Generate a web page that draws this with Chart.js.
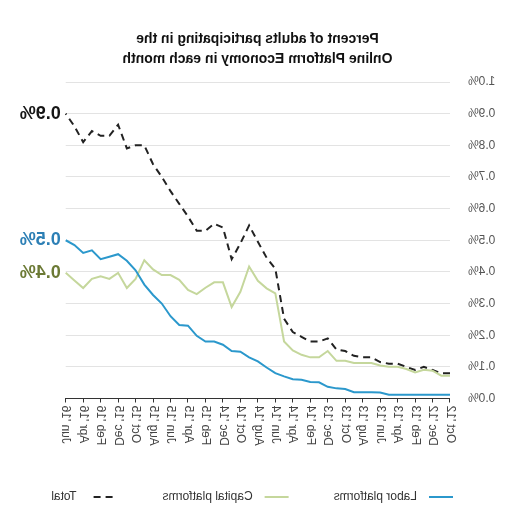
<!DOCTYPE html>
<html>
<head>
<meta charset="utf-8">
<script src="https://cdn.jsdelivr.net/npm/chart.js@4.4.1/dist/chart.umd.min.js"></script>
<style>
  html, body { margin: 0; padding: 0; background: #fff; overflow: hidden; }
  #wrap { width: 515px; height: 508px; transform: scaleX(-1); }
</style>
</head>
<body>
<div id="wrap"><canvas id="c" width="515" height="508"></canvas></div>
<script>
const months = [
  "Oct '12","Nov '12","Dec '12","Jan '13","Feb '13","Mar '13","Apr '13","May '13","Jun '13","Jul '13","Aug '13","Sep '13",
  "Oct '13","Nov '13","Dec '13","Jan '14","Feb '14","Mar '14","Apr '14","May '14","Jun '14","Jul '14","Aug '14","Sep '14",
  "Oct '14","Nov '14","Dec '14","Jan '15","Feb '15","Mar '15","Apr '15","May '15","Jun '15","Jul '15","Aug '15","Sep '15",
  "Oct '15","Nov '15","Dec '15","Jan '16","Feb '16","Mar '16","Apr '16","May '16","Jun '16"
];
// percent of adults (%)
const laborPlatforms = [
  0.012,0.012,0.012,0.012,0.012,0.012,0.012,0.012,0.019,0.02,0.02,0.02,
  0.03,0.032,0.037,0.051,0.052,0.059,0.061,0.07,0.08,0.098,0.117,0.13,
  0.148,0.15,0.17,0.18,0.18,0.198,0.23,0.232,0.26,0.30,0.327,0.36,
  0.405,0.435,0.456,0.448,0.44,0.468,0.46,0.485,0.50
];
const capitalPlatforms = [
  0.072,0.072,0.088,0.091,0.082,0.093,0.10,0.10,0.104,0.112,0.112,0.112,
  0.119,0.119,0.15,0.13,0.13,0.138,0.152,0.18,0.332,0.348,0.372,0.417,
  0.337,0.289,0.367,0.367,0.35,0.33,0.343,0.375,0.39,0.39,0.408,0.437,
  0.378,0.349,0.397,0.378,0.386,0.378,0.349,0.373,0.397
];
const totalPlatforms = [
  0.08,0.08,0.09,0.10,0.09,0.10,0.11,0.11,0.115,0.13,0.13,0.135,
  0.15,0.155,0.19,0.18,0.18,0.195,0.21,0.252,0.41,0.445,0.495,0.547,
  0.49,0.44,0.54,0.552,0.53,0.53,0.575,0.615,0.655,0.70,0.74,0.80,
  0.80,0.79,0.865,0.83,0.83,0.845,0.81,0.86,0.90
];
const seriesNames = ["Labor platforms", "Capital platforms", "Total"];
const endLabels = ["0.5%", "0.4%", "0.9%"];
const titleLines = ["Percent of adults participating in the", "Online Platform Economy in each month"];

const FONT = '"Liberation Sans", Arial, sans-serif';
const lineColors = ["#2b98cc", "#c5d79c", "#222222"];
const labelColors = ["#2c7fb5", "#6c7a35", "#151515"];

const endLabelPlugin = {
  id: 'endLabels',
  afterDatasetsDraw(chart) {
    const ctx = chart.ctx;
    ctx.save();
    ctx.font = 'bold 18px ' + FONT;
    ctx.textAlign = 'left';
    ctx.textBaseline = 'middle';
    chart.data.datasets.forEach((ds, i) => {
      const meta = chart.getDatasetMeta(i);
      const pt = meta.data[meta.data.length - 1];
      ctx.fillStyle = labelColors[i];
      ctx.fillText(endLabels[i], pt.x + 5, pt.y);
    });
    ctx.restore();
  }
};

const legendPlugin = {
  id: 'lineLegend',
  afterDraw(chart) {
    const ctx = chart.ctx;
    ctx.save();
    ctx.font = '12px ' + FONT;
    ctx.textBaseline = 'middle';
    ctx.textAlign = 'left';
    const y = chart.height - 11;
    const sw = 24, gap = 12;
    let x = chart.chartArea.left - 3;
    chart.data.datasets.forEach((ds, i) => {
      ctx.beginPath();
      ctx.setLineDash(ds.borderDash || []);
      ctx.strokeStyle = ds.borderColor;
      ctx.lineWidth = 2;
      ctx.moveTo(x, y);
      ctx.lineTo(x + sw, y);
      ctx.stroke();
      ctx.setLineDash([]);
      ctx.fillStyle = '#333';
      ctx.fillText(ds.label, x + sw + gap, y);
      x += sw + gap + ctx.measureText(ds.label).width + (i === 0 ? 45 : 50);
    });
    ctx.restore();
  }
};

new Chart(document.getElementById('c'), {
  type: 'line',
  data: {
    labels: months,
    datasets: [
      { label: seriesNames[0], data: laborPlatforms, borderColor: lineColors[0], borderWidth: 2, pointRadius: 0, tension: 0 },
      { label: seriesNames[1], data: capitalPlatforms, borderColor: lineColors[1], borderWidth: 2, pointRadius: 0, tension: 0 },
      { label: seriesNames[2], data: totalPlatforms, borderColor: lineColors[2], borderWidth: 2, borderDash: [7, 5], pointRadius: 0, tension: 0 }
    ]
  },
  options: {
    responsive: false,
    animation: false,
    layout: { padding: { left: 0, right: 0, top: 0, bottom: 53.5 } },
    plugins: {
      legend: { display: false },
      tooltip: { enabled: false },
      title: {
        display: true,
        text: titleLines,
        color: '#111',
        font: { family: FONT, size: 14, weight: 'bold', lineHeight: 20 / 14 },
        padding: { top: 29, bottom: 13 }
      }
    },
    scales: {
      x: {
        offset: false,
        grid: {
          drawOnChartArea: false,
          drawTicks: true,
          tickLength: 4,
          tickColor: (c) => (c.index % 2 === 0 ? '#333' : 'rgba(0,0,0,0)')
        },
        border: { display: true, color: '#333', width: 1 },
        ticks: {
          autoSkip: false,
          minRotation: 90,
          maxRotation: 90,
          padding: 3,
          color: '#444',
          font: { family: FONT, size: 12 },
          callback: function (v, i) { return i % 2 === 0 ? months[i] : ''; }
        },
        afterFit: (s) => { s.height = 56; }
      },
      y: {
        min: 0,
        max: 1.0,
        grid: { color: '#e3e3e3', lineWidth: 1, drawTicks: false },
        border: { display: false },
        ticks: {
          stepSize: 0.1,
          padding: 18,
          color: '#555',
          font: { family: FONT, size: 12 },
          callback: (v) => v.toFixed(1) + '%'
        },
        afterFit: (s) => { s.width = 65; }
      },
      labelSpace: {
        type: 'linear',
        position: 'right',
        display: true,
        grid: { display: false, drawTicks: false },
        border: { display: false },
        ticks: { display: false },
        afterFit: (s) => { s.width = 65.7; }
      }
    }
  },
  plugins: [endLabelPlugin, legendPlugin]
});
</script>
</body>
</html>
